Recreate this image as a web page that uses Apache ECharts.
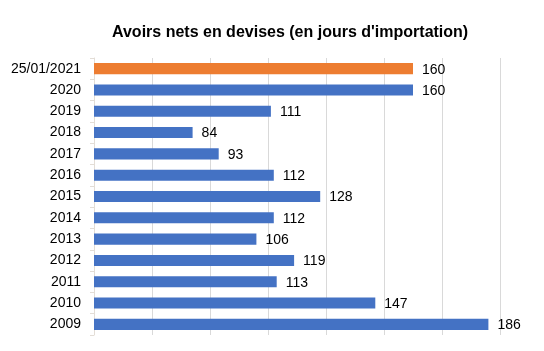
<!DOCTYPE html>
<html>
<head>
<meta charset="utf-8">
<script src="https://cdn.jsdelivr.net/npm/echarts@6/dist/echarts.min.js"></script>
<style>
  html, body { margin: 0; padding: 0; background: #fff; }
  #chart { width: 544px; height: 351px; }
</style>
</head>
<body>
<div id="chart"></div>
<script>
// categories from top to bottom as in the picture
const categories = ['25/01/2021', '2020', '2019', '2018', '2017', '2016', '2015', '2014', '2013', '2012', '2011', '2010', '2009']
const values = [160, 160, 111, 84, 93, 112, 128, 112, 106, 119, 113, 147, 186]
const highlighted = ['25/01/2021']

const chart = echarts.init(document.getElementById('chart'))

const barData = categories.map((c, i) => ({
  value: values[i],
  itemStyle: { color: highlighted.includes(c) ? '#ED7D31' : '#4472C4' }
}))

const option = {
  animation: false,
  title: {
    text: "Avoirs nets en devises (en jours d'importation)",
    left: 107,
    top: 20,
    textStyle: {
      fontFamily: 'Liberation Sans, Arial, sans-serif',
      fontSize: 16,
      fontWeight: 'bold',
      color: '#000'
    }
  },
  grid: {
    left: 94,
    right: 44,
    top: 58,
    bottom: 16,
    containLabel: false
  },
  xAxis: [
    {
      // data axis, starts at 50 like the original
      type: 'value',
      min: 50,
      max: 190,
      axisLabel: { show: false },
      axisLine: { show: false },
      axisTick: { show: false },
      splitLine: { show: false }
    },
    {
      // helper axis for the vertical grid lines every 20 units (50, 70, ... 190)
      type: 'value',
      min: 0,
      max: 140,
      interval: 20,
      axisLabel: { show: false },
      axisLine: { show: false },
      axisTick: { show: false },
      splitLine: { show: true, lineStyle: { color: '#d9d9d9', width: 1 } }
    }
  ],
  yAxis: {
    type: 'category',
    data: categories,
    inverse: true,
    axisLine: { show: true, lineStyle: { color: '#e3ddd6' } },
    axisTick: { show: true, length: 4, lineStyle: { color: '#e3ddd6' } },
    axisLabel: {
      margin: 13,
      fontFamily: 'Liberation Sans, Arial, sans-serif',
      fontSize: 14,
      color: '#000'
    }
  },
  series: [{
    type: 'bar',
    xAxisIndex: 0,
    data: barData,
    barCategoryGap: '48%',
    label: {
      show: true,
      position: 'right',
      distance: 9,
      offset: [0, 1],
      fontFamily: 'Liberation Sans, Arial, sans-serif',
      fontSize: 14,
      color: '#000'
    }
  }]
}

chart.setOption(option)
</script>
</body>
</html>
